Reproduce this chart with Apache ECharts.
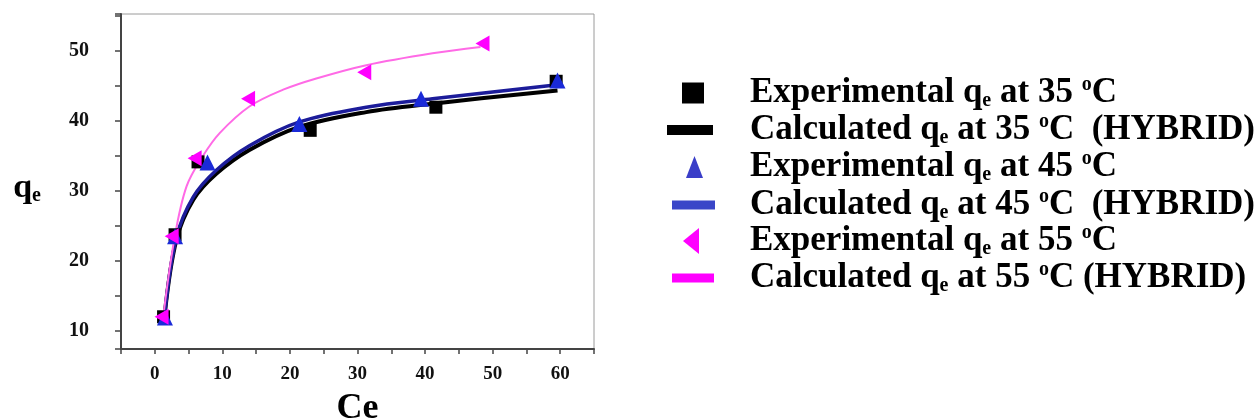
<!DOCTYPE html>
<html>
<head>
<meta charset="utf-8">
<script src="https://cdn.jsdelivr.net/npm/echarts@6/dist/echarts.min.js"></script>
<style>
  html, body { margin: 0; padding: 0; background: #fff; }
  #chart { width: 1258px; height: 420px; }
</style>
</head>
<body>
<div id="chart"></div>
<script>
// experimental points (Ce, qe)
var ce35 = [1.3, 3.0, 6.4, 23.0, 41.6, 59.4];
var qe35 = [12.0, 23.7, 34.1, 38.6, 41.9, 45.6];
var ce45 = [1.5, 3.0, 7.8, 21.4, 39.4, 59.6];
var qe45 = [11.9, 23.5, 34.0, 39.5, 43.1, 45.7];
var ce55 = [1.0, 2.5, 5.9, 13.8, 31.0, 48.5];
var qe55 = [12.0, 23.5, 34.6, 43.1, 46.9, 51.0];

// calculated (HYBRID) curves
var calcCe = [1.5, 3.2, 5.7, 9.1, 14.0, 21.4, 31.3, 41.1, 59.6];
var calc35 = [12.6, 23.0, 28.7, 32.4, 35.8, 39.1, 41.2, 42.4, 44.3];
var calc45 = [12.6, 23.3, 29.1, 32.9, 36.4, 39.8, 41.9, 43.1, 45.1];
var calcCe55 = [1.3, 2.95, 4.7, 7.1, 9.6, 14.0, 19.0, 23.9, 31.3, 41.1, 48.2];
var calc55 = [12.4, 23.4, 30.6, 34.9, 38.2, 42.0, 44.4, 46.0, 47.9, 49.6, 50.5];

var xTickLabels = [0, 10, 20, 30, 40, 50, 60];
var yTickLabels = [10, 20, 30, 40, 50];

var seriesNames = [
  'Experimental qe at 35 oC',
  'Calculated qe at 35 oC (HYBRID)',
  'Experimental qe at 45 oC',
  'Calculated qe at 45 oC (HYBRID)',
  'Experimental qe at 55 oC',
  'Calculated qe at 55 oC (HYBRID)'
];
var legendRich = [
  '{t|Experimental q}{s|e}{t| at 35 }{o|o}{t|C}',
  '{t|Calculated q}{s|e}{t| at 35 }{o|o}{t|C  (HYBRID)}',
  '{t|Experimental q}{s|e}{t| at 45 }{o|o}{t|C}',
  '{t|Calculated q}{s|e}{t| at 45 }{o|o}{t|C  (HYBRID)}',
  '{t|Experimental q}{s|e}{t| at 55 }{o|o}{t|C}',
  '{t|Calculated q}{s|e}{t| at 55 }{o|o}{t|C (HYBRID)}'
];

function zip(a, b) {
  return a.map(function (v, i) { return [v, b[i]]; });
}

var serif = 'Liberation Serif';
var leftTri = 'path://M14,0L0,8L14,16Z';

// one legend per row so every icon can have its own size
var legendRows = [
  { icon: 'rect', w: 22, h: 21, color: '#000', left: 682, cy: 93 },
  { icon: 'rect', w: 46, h: 10, color: '#000', left: 667, cy: 130 },
  { icon: 'triangle', w: 17, h: 22, color: '#3a3ec8', left: 686, cy: 167 },
  { icon: 'rect', w: 43, h: 9, color: '#3a46c8', left: 672, cy: 205 },
  { icon: 'path://M16,0L0,13L16,26Z', w: 16, h: 26, color: '#ff00ff', left: 683, cy: 241 },
  { icon: 'rect', w: 42, h: 9, color: '#ff00ff', left: 672, cy: 278 }
];

var legends = legendRows.map(function (r, i) {
  var gap = 750 - (r.left + r.w + 5);
  return {
    left: r.left,
    top: r.cy - 18,
    itemWidth: r.w,
    itemHeight: r.h,
    padding: 0,
    selectedMode: false,
    data: [{ name: seriesNames[i], icon: r.icon, itemStyle: { color: r.color, opacity: 1 } }],
    formatter: function () { return '{g|}' + legendRich[i]; },
    textStyle: {
      rich: {
        g: { width: gap },
        t: { fontFamily: serif, fontWeight: 'bold', fontSize: 35, color: '#000', lineHeight: 36 },
        s: { fontFamily: serif, fontWeight: 'bold', fontSize: 20, color: '#000', lineHeight: 10, verticalAlign: 'bottom' },
        o: { fontFamily: serif, fontWeight: 'bold', fontSize: 20, color: '#000', lineHeight: 14, verticalAlign: 'top' }
      }
    }
  };
});

var chart = echarts.init(document.getElementById('chart'));
var option = {
  backgroundColor: '#fff',
  animation: false,
  legend: legends,
  grid: {
    left: 121,
    right: 664,
    top: 14,
    bottom: 71,
    containLabel: false,
    outerBoundsMode: 'none',
    show: true,
    borderColor: '#9a9a9a',
    borderWidth: 1
  },
  xAxis: {
    type: 'value',
    min: -5,
    max: 65,
    interval: 5,
    name: 'Ce',
    nameLocation: 'middle',
    nameGap: 42,
    nameTextStyle: { fontFamily: serif, fontWeight: 'bold', fontSize: 36, color: '#000' },
    axisLine: { onZero: false, lineStyle: { color: '#444', width: 2 } },
    axisTick: { length: 5, lineStyle: { color: '#444', width: 1.5 } },
    splitLine: { show: false },
    axisLabel: {
      margin: 16,
      fontFamily: serif,
      fontWeight: 'bold',
      fontSize: 19,
      color: '#111',
      formatter: function (v) { return xTickLabels.indexOf(v) >= 0 ? String(v) : ''; }
    }
  },
  yAxis: {
    type: 'value',
    min: 7.4,
    max: 55.2,
    splitNumber: 10,
    name: '{q|q}{e|e}',
    nameLocation: 'middle',
    nameRotate: 0,
    nameGap: 80,
    nameTextStyle: {
      padding: [14, 0, 0, 0],
      rich: {
        q: { fontFamily: serif, fontWeight: 'bold', fontSize: 34, color: '#000', lineHeight: 34 },
        e: { fontFamily: serif, fontWeight: 'bold', fontSize: 20, color: '#000', lineHeight: 12, verticalAlign: 'bottom' }
      }
    },
    axisLine: { onZero: false, lineStyle: { color: '#444', width: 2 } },
    axisTick: { length: 6, lineStyle: { color: '#444', width: 1.5 } },
    splitLine: { show: false },
    axisLabel: {
      margin: 32,
      fontFamily: serif,
      fontWeight: 'bold',
      fontSize: 20,
      color: '#111',
      formatter: function (v) { return yTickLabels.indexOf(v) >= 0 ? String(v) : ''; }
    }
  },
  series: [
    {
      name: seriesNames[0], type: 'scatter', symbol: 'rect', symbolSize: 13, z: 5,
      itemStyle: { color: '#000', opacity: 1 },
      data: zip(ce35, qe35)
    },
    {
      name: seriesNames[1], type: 'line', smooth: 0.35, showSymbol: false, symbol: 'none', z: 2,
      lineStyle: { color: '#000', width: 4 }, itemStyle: { color: '#000' },
      data: zip(calcCe, calc35)
    },
    {
      name: seriesNames[2], type: 'scatter', symbol: 'triangle', symbolSize: 16, z: 6,
      itemStyle: { color: '#1a2ad8', opacity: 1 },
      data: zip(ce45, qe45)
    },
    {
      name: seriesNames[3], type: 'line', smooth: 0.35, showSymbol: false, symbol: 'none', z: 3,
      lineStyle: { color: '#1c1c9a', width: 3.5 }, itemStyle: { color: '#1c1c9a' },
      data: zip(calcCe, calc45)
    },
    {
      name: seriesNames[4], type: 'scatter', symbol: leftTri, symbolSize: [14, 16], z: 7,
      itemStyle: { color: '#ff00ff', opacity: 1 },
      data: zip(ce55, qe55)
    },
    {
      name: seriesNames[5], type: 'line', smooth: 0.35, showSymbol: false, symbol: 'none', z: 4,
      lineStyle: { color: '#ff6ae6', width: 2 }, itemStyle: { color: '#ff6ae6' },
      data: zip(calcCe55, calc55)
    }
  ]
};
chart.setOption(option);
window.addEventListener('resize', function () { chart.resize(); });
</script>
</body>
</html>
